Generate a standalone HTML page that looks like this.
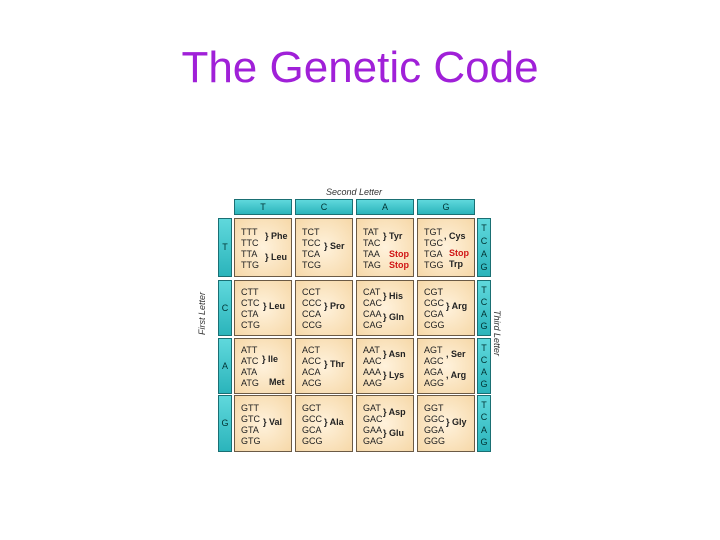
<!DOCTYPE html><html><head><style>
body{margin:0;width:720px;height:540px;background:#fff;position:relative;font-family:"Liberation Sans",sans-serif;overflow:hidden}
.t{position:absolute;left:0;width:720px;top:43px;text-align:center;font-size:44px;color:#a020d8}
.h{position:absolute;background:linear-gradient(#5fd8dc,#2bb4bb);border:1px solid #1a6f73;font-size:9px;color:#033;text-align:center}
.c{position:absolute;background:radial-gradient(#fff2dc,#f6d8a8);border:1px solid #6b5a45;font-size:9px;color:#222}
.l{position:absolute;line-height:1}
.r{color:#d01515;font-weight:bold}
.b{font-weight:bold}
.v{display:flex;flex-direction:column;justify-content:space-around;padding:3px 0}
</style></head><body>
<div class="t">The Genetic Code</div>
<div style="position:absolute;left:326px;top:187px;font-size:9px;font-style:italic;color:#333">Second Letter</div>
<div class="h" style="left:234px;top:199px;width:56px;height:14px;line-height:14px">T</div>
<div class="h" style="left:295px;top:199px;width:56px;height:14px;line-height:14px">C</div>
<div class="h" style="left:356px;top:199px;width:56px;height:14px;line-height:14px">A</div>
<div class="h" style="left:417px;top:199px;width:56px;height:14px;line-height:14px">G</div>
<div style="position:absolute;left:197px;top:335px;font-size:9px;font-style:italic;color:#333;transform:rotate(-90deg);transform-origin:left top;white-space:nowrap">First Letter</div>
<div style="position:absolute;left:502px;top:310px;font-size:9px;font-style:italic;color:#333;transform:rotate(90deg);transform-origin:left top;white-space:nowrap">Third Letter</div>

<div class="h" style="left:218px;top:218px;width:12px;height:57px;line-height:57px">T</div>
<div class="h" style="left:218px;top:280px;width:12px;height:54px;line-height:54px">C</div>
<div class="h" style="left:218px;top:338px;width:12px;height:54px;line-height:54px">A</div>
<div class="h" style="left:218px;top:395px;width:12px;height:55px;line-height:55px">G</div>

<div class="h v" style="left:477px;top:218px;width:12px;height:51px"><span>T</span><span>C</span><span>A</span><span>G</span></div>
<div class="h v" style="left:477px;top:280px;width:12px;height:48px"><span>T</span><span>C</span><span>A</span><span>G</span></div>
<div class="h v" style="left:477px;top:338px;width:12px;height:48px"><span>T</span><span>C</span><span>A</span><span>G</span></div>
<div class="h v" style="left:477px;top:395px;width:12px;height:49px"><span>T</span><span>C</span><span>A</span><span>G</span></div>

<div class="c" style="left:234px;top:218px;width:56px;height:57px"><div class="l" style="left:6px;top:8px;line-height:11px">TTT<br>TTC<br>TTA<br>TTG</div><div class="l b" style="left:30px;top:13px">} Phe</div><div class="l b" style="left:30px;top:34px">} Leu</div></div>
<div class="c" style="left:295px;top:218px;width:56px;height:57px"><div class="l" style="left:6px;top:8px;line-height:11px">TCT<br>TCC<br>TCA<br>TCG</div><div class="l b" style="left:28px;top:23px">} Ser</div></div>
<div class="c" style="left:356px;top:218px;width:56px;height:57px"><div class="l" style="left:6px;top:8px;line-height:11px">TAT<br>TAC<br>TAA<br>TAG</div><div class="l b" style="left:26px;top:13px">} Tyr</div><div class="l r" style="left:32px;top:30px;line-height:11px">Stop<br>Stop</div></div>
<div class="c" style="left:417px;top:218px;width:56px;height:57px"><div class="l" style="left:6px;top:8px;line-height:11px">TGT<br>TGC<br>TGA<br>TGG</div><div class="l b" style="left:26px;top:13px">, Cys</div><div class="l r" style="left:31px;top:30px">Stop</div><div class="l b" style="left:31px;top:41px">Trp</div></div>
<div class="c" style="left:234px;top:280px;width:56px;height:54px"><div class="l" style="left:6px;top:6px;line-height:11px">CTT<br>CTC<br>CTA<br>CTG</div><div class="l b" style="left:28px;top:21px">} Leu</div></div>
<div class="c" style="left:295px;top:280px;width:56px;height:54px"><div class="l" style="left:6px;top:6px;line-height:11px">CCT<br>CCC<br>CCA<br>CCG</div><div class="l b" style="left:28px;top:21px">} Pro</div></div>
<div class="c" style="left:356px;top:280px;width:56px;height:54px"><div class="l" style="left:6px;top:6px;line-height:11px">CAT<br>CAC<br>CAA<br>CAG</div><div class="l b" style="left:26px;top:11px">} His</div><div class="l b" style="left:26px;top:32px">} Gln</div></div>
<div class="c" style="left:417px;top:280px;width:56px;height:54px"><div class="l" style="left:6px;top:6px;line-height:11px">CGT<br>CGC<br>CGA<br>CGG</div><div class="l b" style="left:28px;top:21px">} Arg</div></div>
<div class="c" style="left:234px;top:338px;width:56px;height:54px"><div class="l" style="left:6px;top:6px;line-height:11px">ATT<br>ATC<br>ATA<br>ATG</div><div class="l b" style="left:27px;top:16px">} Ile</div><div class="l b" style="left:34px;top:39px">Met</div></div>
<div class="c" style="left:295px;top:338px;width:56px;height:54px"><div class="l" style="left:6px;top:6px;line-height:11px">ACT<br>ACC<br>ACA<br>ACG</div><div class="l b" style="left:28px;top:21px">} Thr</div></div>
<div class="c" style="left:356px;top:338px;width:56px;height:54px"><div class="l" style="left:6px;top:6px;line-height:11px">AAT<br>AAC<br>AAA<br>AAG</div><div class="l b" style="left:26px;top:11px">} Asn</div><div class="l b" style="left:26px;top:32px">} Lys</div></div>
<div class="c" style="left:417px;top:338px;width:56px;height:54px"><div class="l" style="left:6px;top:6px;line-height:11px">AGT<br>AGC<br>AGA<br>AGG</div><div class="l b" style="left:28px;top:11px">, Ser</div><div class="l b" style="left:28px;top:32px">, Arg</div></div>
<div class="c" style="left:234px;top:395px;width:56px;height:55px"><div class="l" style="left:6px;top:7px;line-height:11px">GTT<br>GTC<br>GTA<br>GTG</div><div class="l b" style="left:28px;top:22px">} Val</div></div>
<div class="c" style="left:295px;top:395px;width:56px;height:55px"><div class="l" style="left:6px;top:7px;line-height:11px">GCT<br>GCC<br>GCA<br>GCG</div><div class="l b" style="left:28px;top:22px">} Ala</div></div>
<div class="c" style="left:356px;top:395px;width:56px;height:55px"><div class="l" style="left:6px;top:7px;line-height:11px">GAT<br>GAC<br>GAA<br>GAG</div><div class="l b" style="left:26px;top:12px">} Asp</div><div class="l b" style="left:26px;top:33px">} Glu</div></div>
<div class="c" style="left:417px;top:395px;width:56px;height:55px"><div class="l" style="left:6px;top:7px;line-height:11px">GGT<br>GGC<br>GGA<br>GGG</div><div class="l b" style="left:28px;top:22px">} Gly</div></div>
</body></html>
